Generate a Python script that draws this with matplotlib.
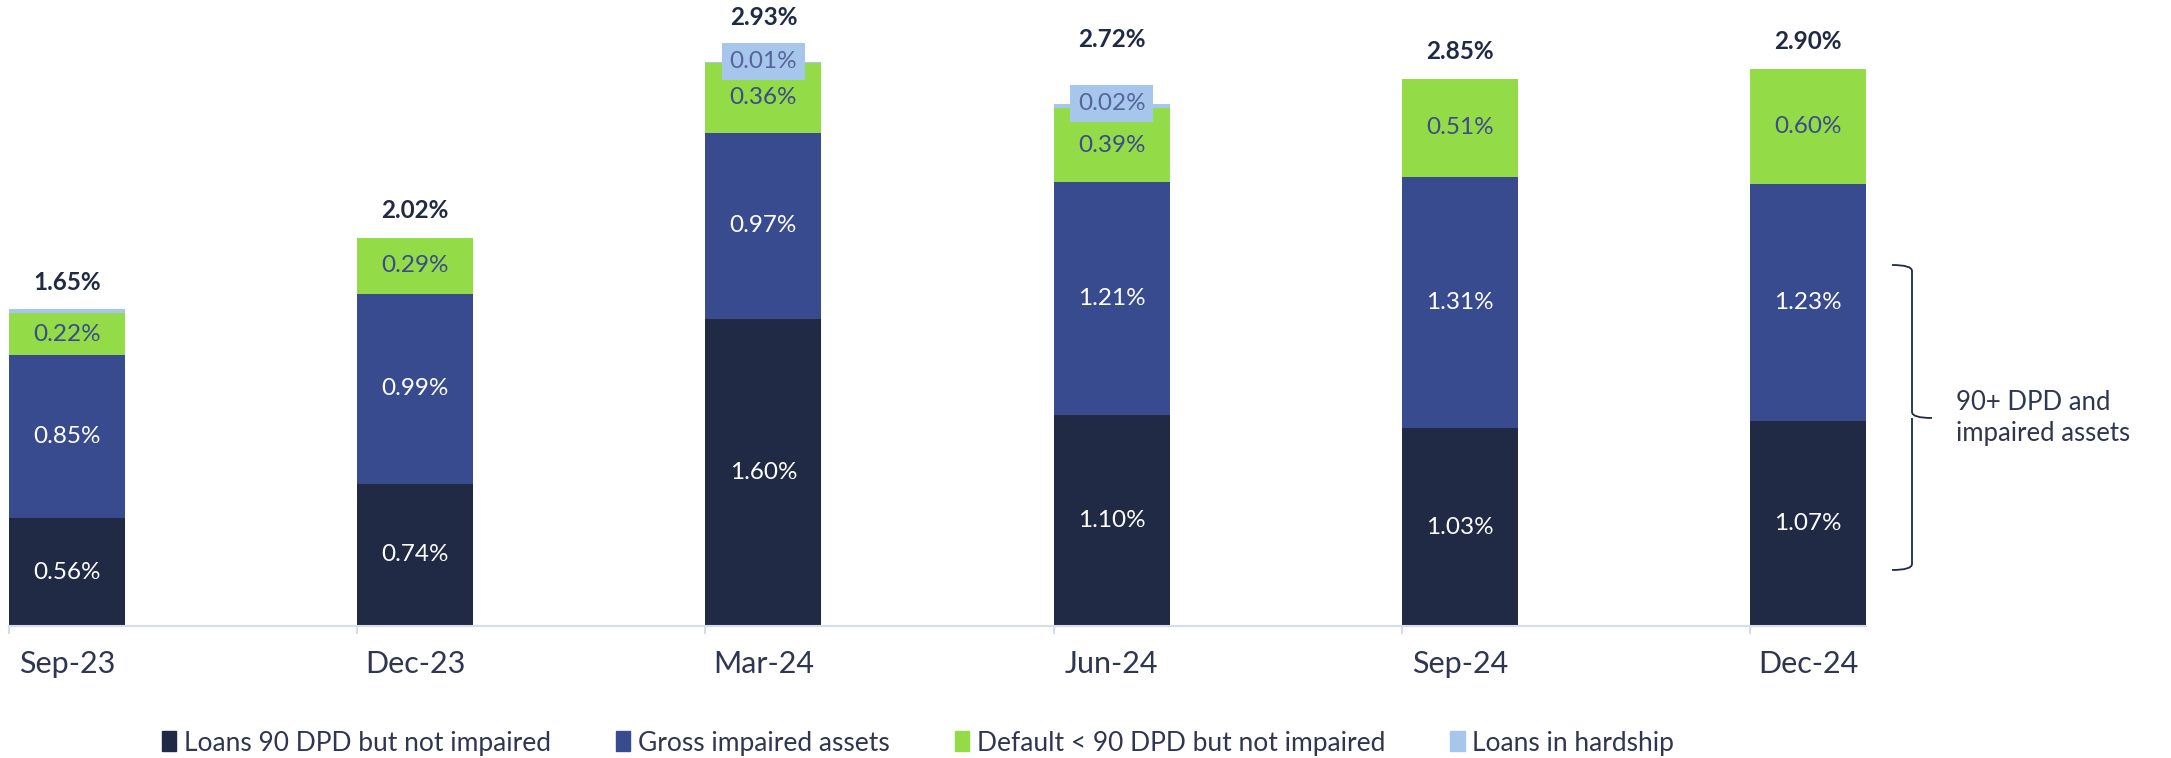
import matplotlib.pyplot as plt
from matplotlib.patches import Patch
from matplotlib.path import Path
from matplotlib.patches import PathPatch
import numpy as np

# quarters and segment values (%)
quarters = ['Sep-23', 'Dec-23', 'Mar-24', 'Jun-24', 'Sep-24', 'Dec-24']
loans_90dpd = [0.56, 0.74, 1.60, 1.10, 1.03, 1.07]
gross_impaired = [0.85, 0.99, 0.97, 1.21, 1.31, 1.23]
default_lt90 = [0.22, 0.29, 0.36, 0.39, 0.51, 0.60]
hardship = [0.02, 0.0, 0.01, 0.02, 0.0, 0.0]
hardship_labels = ['', '', '0.01%', '0.02%', '', '']
totals = [1.65, 2.02, 2.93, 2.72, 2.85, 2.90]

DARK = '#202a45'
BLUE = '#384b8e'
GREEN = '#93db47'
LIGHT = '#a7c6ec'
AXIS = '#d5dcec'

plt.rcParams['font.family'] = ['Lato', 'DejaVu Sans']

fig = plt.figure(figsize=(21.71, 7.58), dpi=100)
W, H = 2171, 758
ax = fig.add_axes([9 / W, (H - 626) / H, (1866 - 9) / W, 626 / H])

x = np.arange(len(quarters))
bw = 1 / 3
b1 = np.array(loans_90dpd)
b2 = b1 + np.array(gross_impaired)
b3 = b2 + np.array(default_lt90)
top = b3 + np.array(hardship)

ax.bar(x, loans_90dpd, bw, color=DARK, label='Loans 90 DPD but not impaired')
ax.bar(x, gross_impaired, bw, bottom=b1, color=BLUE, label='Gross impaired assets')
ax.bar(x, default_lt90, bw, bottom=b2, color=GREEN, label='Default < 90 DPD but not impaired')
ax.bar(x, hardship, bw, bottom=b3, color=LIGHT, label='Loans in hardship')

seg_fs = 17.5
for i in x:
    ax.text(i, loans_90dpd[i] / 2, f'{loans_90dpd[i]:.2f}%', ha='center', va='center',
            color='white', fontsize=seg_fs)
    ax.text(i, b1[i] + gross_impaired[i] / 2, f'{gross_impaired[i]:.2f}%', ha='center',
            va='center', color='white', fontsize=seg_fs)
    ax.text(i, b2[i] + default_lt90[i] / 2, f'{default_lt90[i]:.2f}%', ha='center',
            va='center', color='#3b4b8d', fontsize=seg_fs)
    if hardship_labels[i]:
        ax.text(i, top[i], hardship_labels[i], ha='center', va='center', color='#56649a',
                fontsize=seg_fs,
                bbox=dict(boxstyle='square,pad=0.32', fc=LIGHT, ec='none'))

# total labels (offsets in points above the stack)
total_offsets = [19, 20, 32, 46, 20, 20]
for i in x:
    ax.annotate(f'{totals[i]:.2f}%', (i, top[i]), xytext=(0, total_offsets[i]),
                textcoords='offset points', ha='center', va='center',
                fontsize=17.5, fontweight='bold', color=DARK)

ax.set_xlim(-1 / 6, len(quarters) - 1 + 1 / 6)
ax.set_ylim(0, 626 / 192)
for s in ['top', 'right', 'left']:
    ax.spines[s].set_visible(False)
ax.spines['bottom'].set_color(AXIS)
ax.spines['bottom'].set_linewidth(1.5)
ax.set_yticks([])
ax.set_xticks(x)
ax.set_xticklabels(quarters, fontsize=22, color='#2e3650')
ax.set_xticks(x - 1 / 6, minor=True)
ax.tick_params(axis='x', which='major', length=0, pad=17)
ax.tick_params(axis='x', which='minor', length=6, color=AXIS, width=1.5)

# brace annotation on the right
bx0, bx1, bx2 = 1892 / W, 1912 / W, 1932 / W
yt, ym, yb = 1 - 265 / H, 1 - 418 / H, 1 - 570 / H
dy = 6 / H
verts = [(bx0, yt), (bx1, yt), (bx1, yt - dy),
         (bx1, ym + dy), (bx1, ym), (bx2, ym),
         (bx1, ym), (bx1, ym - dy),
         (bx1, yb + dy), (bx1, yb), (bx0, yb)]
codes = [Path.MOVETO, Path.CURVE3, Path.CURVE3,
         Path.LINETO, Path.CURVE3, Path.CURVE3,
         Path.MOVETO, Path.LINETO,
         Path.LINETO, Path.CURVE3, Path.CURVE3]
fig.add_artist(PathPatch(Path(verts, codes), fc='none', ec=DARK, lw=1.3,
                         transform=fig.transFigure))
fig.text(1956 / W, ym, '90+ DPD and\nimpaired assets', ha='left', va='center',
         fontsize=18.5, color='#2e3650', linespacing=1.3)

handles = [Patch(color=c) for c in [DARK, BLUE, GREEN, LIGHT]]
labels = ['Loans 90 DPD but not impaired', 'Gross impaired assets',
          'Default < 90 DPD but not impaired', 'Loans in hardship']
fig.legend(handles, labels, loc='center', bbox_to_anchor=(918 / W, 1 - 743 / H),
           ncol=4, frameon=False, fontsize=19, handlelength=0.55, handleheight=0.8,
           handletextpad=0.3, columnspacing=2.45, labelcolor='#2e3650')

fig.savefig('out.png', dpi=100)
